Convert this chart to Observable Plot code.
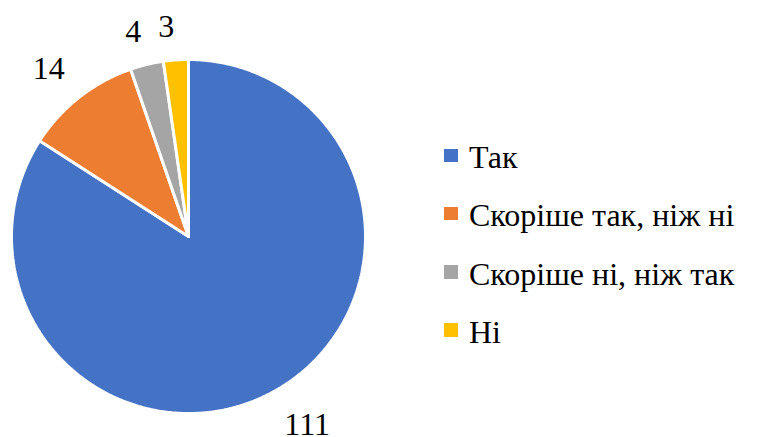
<!DOCTYPE html>
<html>
<head>
<meta charset="utf-8">
<script src="https://cdn.jsdelivr.net/npm/d3@7"></script>
<script src="https://cdn.jsdelivr.net/npm/@observablehq/plot@0.6"></script>
<style>
  #wrap, #wrap * { font-family: "Liberation Serif", "Times New Roman", serif !important; }
</style>
</head>
<body style="margin:0;padding:0;background:#fff">
<div id="wrap" style="position:relative;width:781px;height:437px;overflow:hidden;"><div id="chart" style="position:absolute;left:0;top:0"></div><div id="legend" style="position:absolute;left:444px;top:128px;"></div></div>
<script>
const categories = ["Так", "Скоріше так, ніж ні", "Скоріше ні, ніж так", "Ні"];
const values = [111, 14, 4, 3];
const colors = ["#4472C4", "#ED7D31", "#A5A5A5", "#FFC000"];

const W = 781, H = 437;
const data = categories.map((c, i) => ({category: c, value: values[i]}));
const arcs = d3.pie().value(d => d.value).sort(null).startAngle(0).endAngle(2 * Math.PI)(data);

const poly = [];
arcs.forEach(a => {
  const n = Math.max(2, Math.ceil((a.endAngle - a.startAngle) / (Math.PI / 360)));
  poly.push({category: a.data.category, x: 0, y: 0});
  for (let k = 0; k <= n; k++) {
    const t = a.startAngle + (a.endAngle - a.startAngle) * k / n;
    poly.push({category: a.data.category, x: Math.sin(t), y: Math.cos(t)});
  }
  poly.push({category: a.data.category, x: 0, y: 0});
});

const labelR = 1.13;
const labels = arcs.map(a => {
  const m = (a.startAngle + a.endAngle) / 2;
  return {label: String(a.data.value), x: labelR * Math.sin(m), y: labelR * Math.cos(m), right: Math.sin(m) > 0, low: Math.cos(m) < 0};
});

const font = "\"Liberation Serif\", \"Times New Roman\", serif";
const chart = Plot.plot({
  width: W,
  height: H,
  marginLeft: 11,
  marginRight: 416,
  marginTop: 59,
  marginBottom: 24,
  x: {domain: [-1, 1], axis: null},
  y: {domain: [-1, 1], axis: null},
  color: {domain: categories, range: colors},
  style: {fontFamily: font, background: "white", overflow: "visible"},
  marks: [
    Plot.line(poly, {x: "x", y: "y", z: "category", fill: "category", stroke: "white", strokeWidth: 3, strokeLinejoin: "miter", curve: "linear"}),
    Plot.text(labels.filter(d => d.right && d.low), {x: "x", y: "y", text: "label", fontSize: 32, textAnchor: "start", lineAnchor: "top", fill: "black"}),
    Plot.text(labels.filter(d => !d.right && !d.low), {x: "x", y: "y", text: "label", fontSize: 32, textAnchor: "end", lineAnchor: "bottom", fill: "black"}),
    Plot.text(labels.filter(d => d.right && !d.low), {x: "x", y: "y", text: "label", fontSize: 32, textAnchor: "start", lineAnchor: "bottom", fill: "black"}),
    Plot.text(labels.filter(d => !d.right && d.low), {x: "x", y: "y", text: "label", fontSize: 32, textAnchor: "end", lineAnchor: "top", fill: "black"})
  ]
});
chart.querySelectorAll("text, g, svg").forEach(t => t.style.setProperty("font-family", font, "important"));
chart.style.setProperty("font-family", font, "important");
document.getElementById("chart").appendChild(chart);

const legend = document.getElementById("legend");
categories.forEach((c, i) => {
  const row = document.createElement("div");
  row.style.cssText = "position:relative;height:58.3px";
  const sw = document.createElement("div");
  sw.style.cssText = "position:absolute;left:0;top:20.5px;width:13.5px;height:13.5px;background:" + colors[i];
  const lb = document.createElement("div");
  lb.style.cssText = "position:absolute;left:25px;top:0;line-height:58.3px;font-size:32px;color:#000;white-space:nowrap";
  lb.style.setProperty("font-family", font, "important");
  lb.textContent = c;
  row.appendChild(sw);
  row.appendChild(lb);
  legend.appendChild(row);
});
</script>
</body>
</html>
